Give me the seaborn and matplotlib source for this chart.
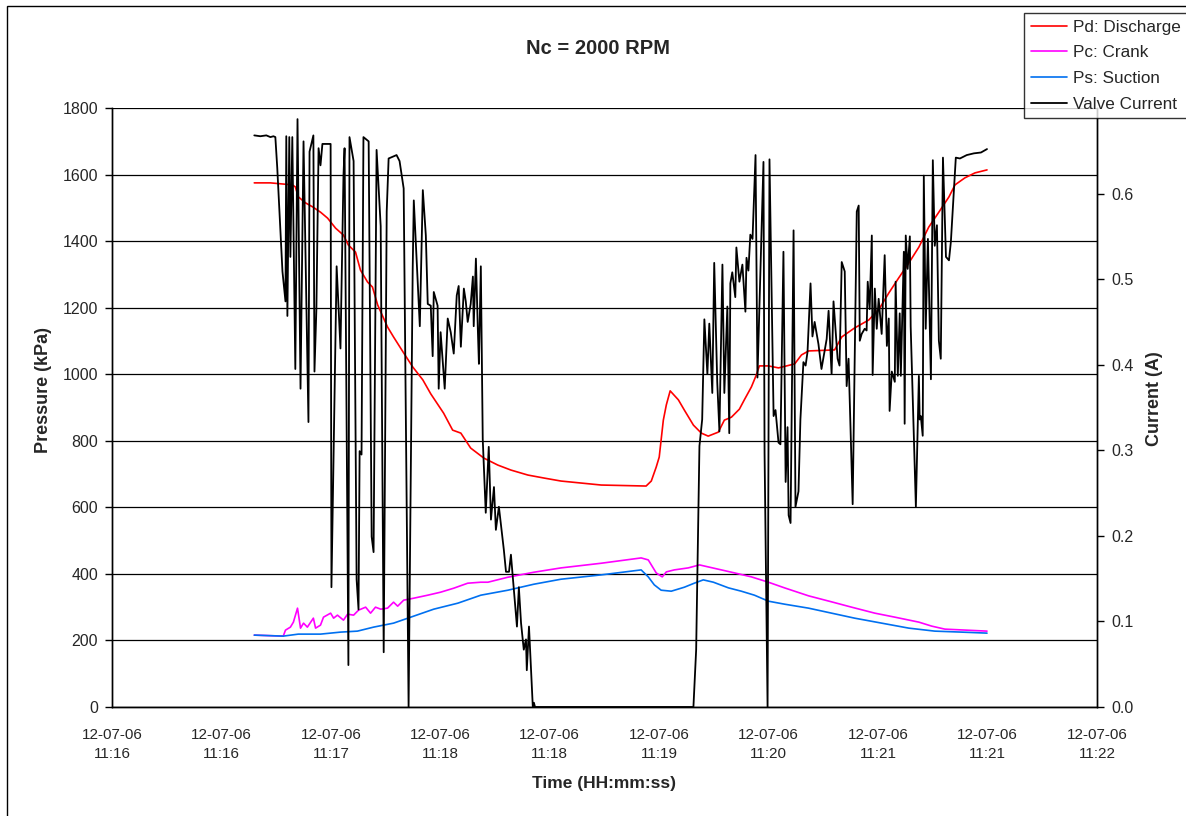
import numpy as np
import pandas as pd
import matplotlib
matplotlib.use("Agg")
import matplotlib.pyplot as plt
from matplotlib.patches import Rectangle
import seaborn as sns

# ------------------------------------------
# Data (time in seconds after 11:16:00)
# ------------------------------------------
tick_labels = ["12-07-06\n11:16", "12-07-06\n11:16", "12-07-06\n11:17", "12-07-06\n11:18",
               "12-07-06\n11:18", "12-07-06\n11:19", "12-07-06\n11:20", "12-07-06\n11:21",
               "12-07-06\n11:21", "12-07-06\n11:22"]
tick_secs = [0, 40, 80, 120, 160, 200, 240, 280, 320, 360]

pd_time = [52.0, 57.9, 65.9, 67.0, 68.1, 70.7, 73.3, 76.2, 78.8, 81.7, 84.6, 86.4, 89.0, 90.8,
           93.4, 95.2, 97.1, 100.7, 102.9, 106.6, 109.9, 113.6, 116.5, 121.2, 124.5, 127.5,
           131.1, 135.9, 141.0, 145.8, 152.0, 157.9, 164.1, 178.8, 195.2, 197.1, 198.9, 200.0,
           201.5, 202.6, 204.0, 207.0, 209.2, 212.5, 215.4, 217.9, 221.6, 223.8, 226.4, 229.3,
           231.1, 233.7, 235.5, 236.6, 239.9, 243.6, 249.5, 252.0, 254.6, 264.1, 266.7, 271.4,
           276.6, 280.6, 283.9, 287.5, 291.2, 294.9, 298.5, 302.2, 305.9, 308.1, 311.7, 315.4,
           319.8]
pd_kpa = [1575, 1575, 1569, 1563, 1533, 1515, 1503, 1487, 1469, 1439, 1418, 1388, 1367, 1313,
          1277, 1262, 1208, 1142, 1112, 1064, 1022, 983, 941, 883, 832, 823,
          778, 748, 727, 712, 697, 688, 679, 667, 664, 679, 721, 751,
          862, 908, 950, 923, 892, 847, 823, 814, 826, 862, 871, 895,
          923, 962, 998, 1025, 1025, 1019, 1031, 1058, 1070, 1073, 1112, 1139,
          1163, 1199, 1244, 1289, 1334, 1382, 1442, 1487, 1533, 1569, 1590, 1605,
          1614]

pc_time = [52.0, 62.6, 63.4, 65.2, 66.3, 67.8, 68.9, 70.0, 71.4, 73.6, 74.4, 76.2, 77.3, 79.9,
           81.0, 82.4, 84.6, 86.1, 88.3, 90.1, 92.7, 94.5, 96.3, 98.2, 100.7, 102.9, 104.4,
           106.6, 110.3, 115.4, 120.1, 124.9, 130.0, 134.8, 137.4, 144.7, 154.2, 164.1, 178.8,
           193.4, 196.0, 198.9, 201.1, 202.6, 205.5, 210.6, 214.7, 217.9, 222.7, 227.5, 233.7,
           239.9, 245.8, 254.6, 263.0, 270.3, 278.8, 286.1, 294.9, 299.6, 304.4, 319.8]
pc_kpa = [216, 213, 231, 240, 255, 297, 237, 252, 240, 267, 237, 246, 270, 282,
          267, 276, 261, 279, 276, 291, 300, 282, 300, 294, 297, 315, 303,
          321, 327, 336, 345, 357, 372, 375, 375, 390, 405, 418, 432,
          448, 442, 403, 391, 406, 412, 418, 427, 421, 412, 403, 391,
          375, 358, 334, 316, 300, 282, 270, 255, 243, 234, 228]

ps_time = [52.0, 62.6, 68.1, 76.2, 83.5, 89.7, 95.6, 102.9, 109.2, 117.6, 126.4, 134.8, 144.7,
           154.2, 164.1, 178.8, 193.4, 196.0, 198.2, 200.7, 204.4, 209.2, 212.8, 216.1, 219.8,
           225.3, 230.0, 234.8, 239.9, 245.8, 254.6, 263.0, 271.4, 281.3, 291.2, 300.7, 310.6,
           319.8]
ps_kpa = [216, 213, 219, 219, 225, 228, 240, 252, 270, 294, 312, 336, 351,
          369, 384, 397, 412, 391, 367, 351, 348, 360, 372, 382, 375,
          358, 348, 336, 318, 309, 297, 282, 267, 252, 237, 228, 225,
          222]

cur_time = [52.0, 54.2, 56.4, 57.9, 59.0, 59.7, 60.4, 62.3, 63.4, 63.7, 64.1, 64.8, 65.2, 65.9,
            67.0, 67.8, 68.9, 70.0, 71.8, 72.2, 73.6, 74.0, 74.7, 75.5, 76.2, 76.9, 79.9, 80.2,
            82.1, 83.5, 84.6, 85.0, 86.4, 86.8, 88.3, 89.4, 90.1, 90.5, 91.2, 91.9, 93.8, 94.9,
            95.6, 96.7, 98.2, 99.3, 100.4, 101.1, 104.0, 105.1, 106.6, 108.4, 109.9, 110.3,
            112.5, 113.6, 114.7, 115.4, 116.5, 117.2, 117.6, 119.0, 119.4, 120.1, 121.6, 122.7,
            123.8, 124.9, 126.0, 126.7, 127.5, 128.6, 129.3, 130.0, 131.1, 131.9, 132.2, 133.0,
            133.7, 134.1, 134.8, 135.5, 136.6, 137.7, 138.5, 139.6, 140.3, 141.4, 143.2, 144.0,
            145.1, 145.8, 148.0, 148.7, 149.5, 150.5, 151.3, 151.6, 152.4, 153.8, 154.2, 154.6,
            212.5, 213.5, 214.7, 215.7, 216.5, 217.6, 218.3, 219.4, 220.1, 221.2, 222.0, 223.1,
            223.8, 224.9, 225.6, 226.0, 226.7, 227.8, 228.2, 229.3, 230.4, 231.5, 231.9, 232.6,
            233.3, 234.1, 235.2, 235.9, 238.1, 238.5, 239.6, 240.3, 241.8, 242.5, 243.6, 244.3,
            245.4, 246.2, 246.9, 247.3, 248.0, 249.1, 249.8, 250.9, 251.6, 252.7, 253.5, 254.2,
            255.3, 256.0, 256.8, 258.2, 259.3, 261.2, 261.9, 263.0, 263.7, 265.2, 265.9, 266.7,
            267.8, 268.5, 269.2, 270.7, 272.2, 272.9, 273.3, 274.0, 275.1, 275.8, 276.2, 276.9,
            277.7, 278.0, 278.8, 279.5, 280.2, 281.3, 282.4, 283.2, 283.9, 284.2, 285.0, 286.1,
            286.4, 287.2, 287.9, 288.3, 289.4, 289.7, 290.1, 290.8, 291.6, 291.9, 293.8, 294.9,
            295.2, 295.6, 296.3, 296.7, 297.4, 298.2, 299.3, 300.0, 300.7, 301.5, 302.2, 302.9,
            303.7, 304.8, 305.9, 306.6, 308.4, 309.9, 312.4, 315.0, 317.6, 319.8]
cur_amp = [0.668, 0.667, 0.668, 0.666, 0.667, 0.666, 0.630, 0.509, 0.474, 0.667, 0.457, 0.666,
           0.526, 0.666, 0.395, 0.687, 0.372, 0.661, 0.333, 0.649, 0.668, 0.392, 0.465, 0.653,
           0.633, 0.658, 0.658, 0.140, 0.515, 0.419, 0.621, 0.653, 0.049, 0.666, 0.638, 0.149,
           0.114, 0.299, 0.295, 0.666, 0.661, 0.199, 0.181, 0.651, 0.562, 0.064, 0.579, 0.641,
           0.645, 0.638, 0.606, 0.000, 0.512, 0.592, 0.445, 0.604, 0.551, 0.471, 0.469, 0.410,
           0.485, 0.469, 0.372, 0.438, 0.372, 0.454, 0.438, 0.413, 0.481, 0.492, 0.421, 0.489,
           0.474, 0.450, 0.471, 0.503, 0.445, 0.524, 0.442, 0.401, 0.515, 0.313, 0.227, 0.304,
           0.219, 0.257, 0.207, 0.234, 0.184, 0.158, 0.158, 0.178, 0.094, 0.140, 0.098, 0.067,
           0.079, 0.043, 0.094, 0.000, 0.005, 0.000,
           0.000, 0.067, 0.305, 0.336, 0.453, 0.389, 0.448, 0.367, 0.519, 0.380, 0.322, 0.517,
           0.367, 0.468, 0.320, 0.495, 0.508, 0.479, 0.537, 0.497, 0.517, 0.462, 0.525, 0.510,
           0.552, 0.547, 0.645, 0.385, 0.637, 0.297, 0.000, 0.640, 0.340, 0.347, 0.309, 0.307,
           0.532, 0.263, 0.327, 0.224, 0.215, 0.557, 0.234, 0.252, 0.336, 0.403, 0.399, 0.415,
           0.495, 0.433, 0.450, 0.424, 0.395, 0.430, 0.463, 0.389, 0.474, 0.407, 0.399, 0.520,
           0.509, 0.375, 0.407, 0.237, 0.579, 0.586, 0.428, 0.436, 0.442, 0.440, 0.497, 0.465,
           0.551, 0.388, 0.489, 0.442, 0.477, 0.436, 0.528, 0.422, 0.454, 0.346, 0.392, 0.380,
           0.497, 0.387, 0.460, 0.387, 0.532, 0.331, 0.551, 0.512, 0.550, 0.445, 0.234, 0.387,
           0.336, 0.340, 0.317, 0.621, 0.442, 0.547, 0.383, 0.639, 0.539, 0.563, 0.428, 0.407,
           0.642, 0.526, 0.522, 0.544, 0.642, 0.641, 0.645, 0.647, 0.648, 0.652]

# ------------------------------------------
# Figure
# ------------------------------------------
sns.set_style("white")
plt.rcParams["font.family"] = ["Liberation Sans", "DejaVu Sans"]
plt.rcParams["font.size"] = 11

fig = plt.figure(figsize=(11.86, 8.16), dpi=100)
ax = fig.add_axes([112 / 1186, 109 / 816, 985 / 1186, 599 / 816])
ax2 = ax.twinx()

sns.lineplot(x=pd_time, y=pd_kpa, ax=ax, color="#FF0000", lw=1.2, estimator=None, label="Pd: Discharge")
sns.lineplot(x=pc_time, y=pc_kpa, ax=ax, color="#FF00FF", lw=1.2, estimator=None, label="Pc: Crank")
sns.lineplot(x=ps_time, y=ps_kpa, ax=ax, color="#0070F0", lw=1.2, estimator=None, label="Ps: Suction")
sns.lineplot(x=cur_time, y=cur_amp, ax=ax2, color="black", lw=1.3, estimator=None, label="Valve Current")

ax.set_xlim(0, 360)
ax.set_ylim(0, 1800)
ax2.set_ylim(0, 0.7)
ax.set_yticks(np.arange(0, 1801, 200))
ax2.set_yticks(np.arange(0, 0.61, 0.1))
ax2.set_yticklabels([f"{v:.1f}" for v in np.arange(0, 0.61, 0.1)])
ax.set_xticks(tick_secs)
ax.set_xticklabels(tick_labels, linespacing=1.45)

ax.yaxis.grid(True, color="black", lw=0.9)
ax.xaxis.grid(False)
for a in (ax, ax2):
    a.spines["top"].set_visible(False)
    for s in ("left", "right", "bottom"):
        a.spines[s].set_color("black")
        a.spines[s].set_linewidth(1.0)
    a.tick_params(direction="out", length=5, width=1, color="black", labelsize=11.5, pad=5)
ax.tick_params(axis="x", pad=10, labelsize=11)

ax.set_xlabel("Time (HH:mm:ss)", fontweight="bold", fontsize=12.5, labelpad=11)
ax.set_ylabel("Pressure (kPa)", fontweight="bold", fontsize=13, labelpad=12)
ax2.set_ylabel("Current (A)", fontweight="bold", fontsize=13, labelpad=10)
ax.yaxis.set_label_coords(-0.061, 0.53)
ax2.yaxis.set_label_coords(1.050, 0.515)
fig.text(598 / 1186, 1 - 48 / 816, "Nc = 2000 RPM", ha="center", va="center",
         fontsize=14.5, fontweight="bold")

# legend across both axes
h1, l1 = ax.get_legend_handles_labels()
h2, l2 = ax2.get_legend_handles_labels()
ax.get_legend().remove()
ax2.get_legend().remove()
leg = fig.legend(h1 + h2, l1 + l2, loc="upper left", bbox_to_anchor=(1024 / 1186, 1 - 13 / 816),
                 frameon=True, fancybox=False, edgecolor="black", fontsize=12.3,
                 handlelength=2.1, handletextpad=0.35, borderpad=0.4, labelspacing=0.62,
                 borderaxespad=0)
leg.get_frame().set_linewidth(1.0)

# outer chart border
fig.patches.append(Rectangle((7 / 1186, -0.01), 1.05, 1 - 6 / 816 + 0.01, transform=fig.transFigure,
                             fill=False, edgecolor="black", lw=1.0))

fig.savefig("out.png", dpi=100)
